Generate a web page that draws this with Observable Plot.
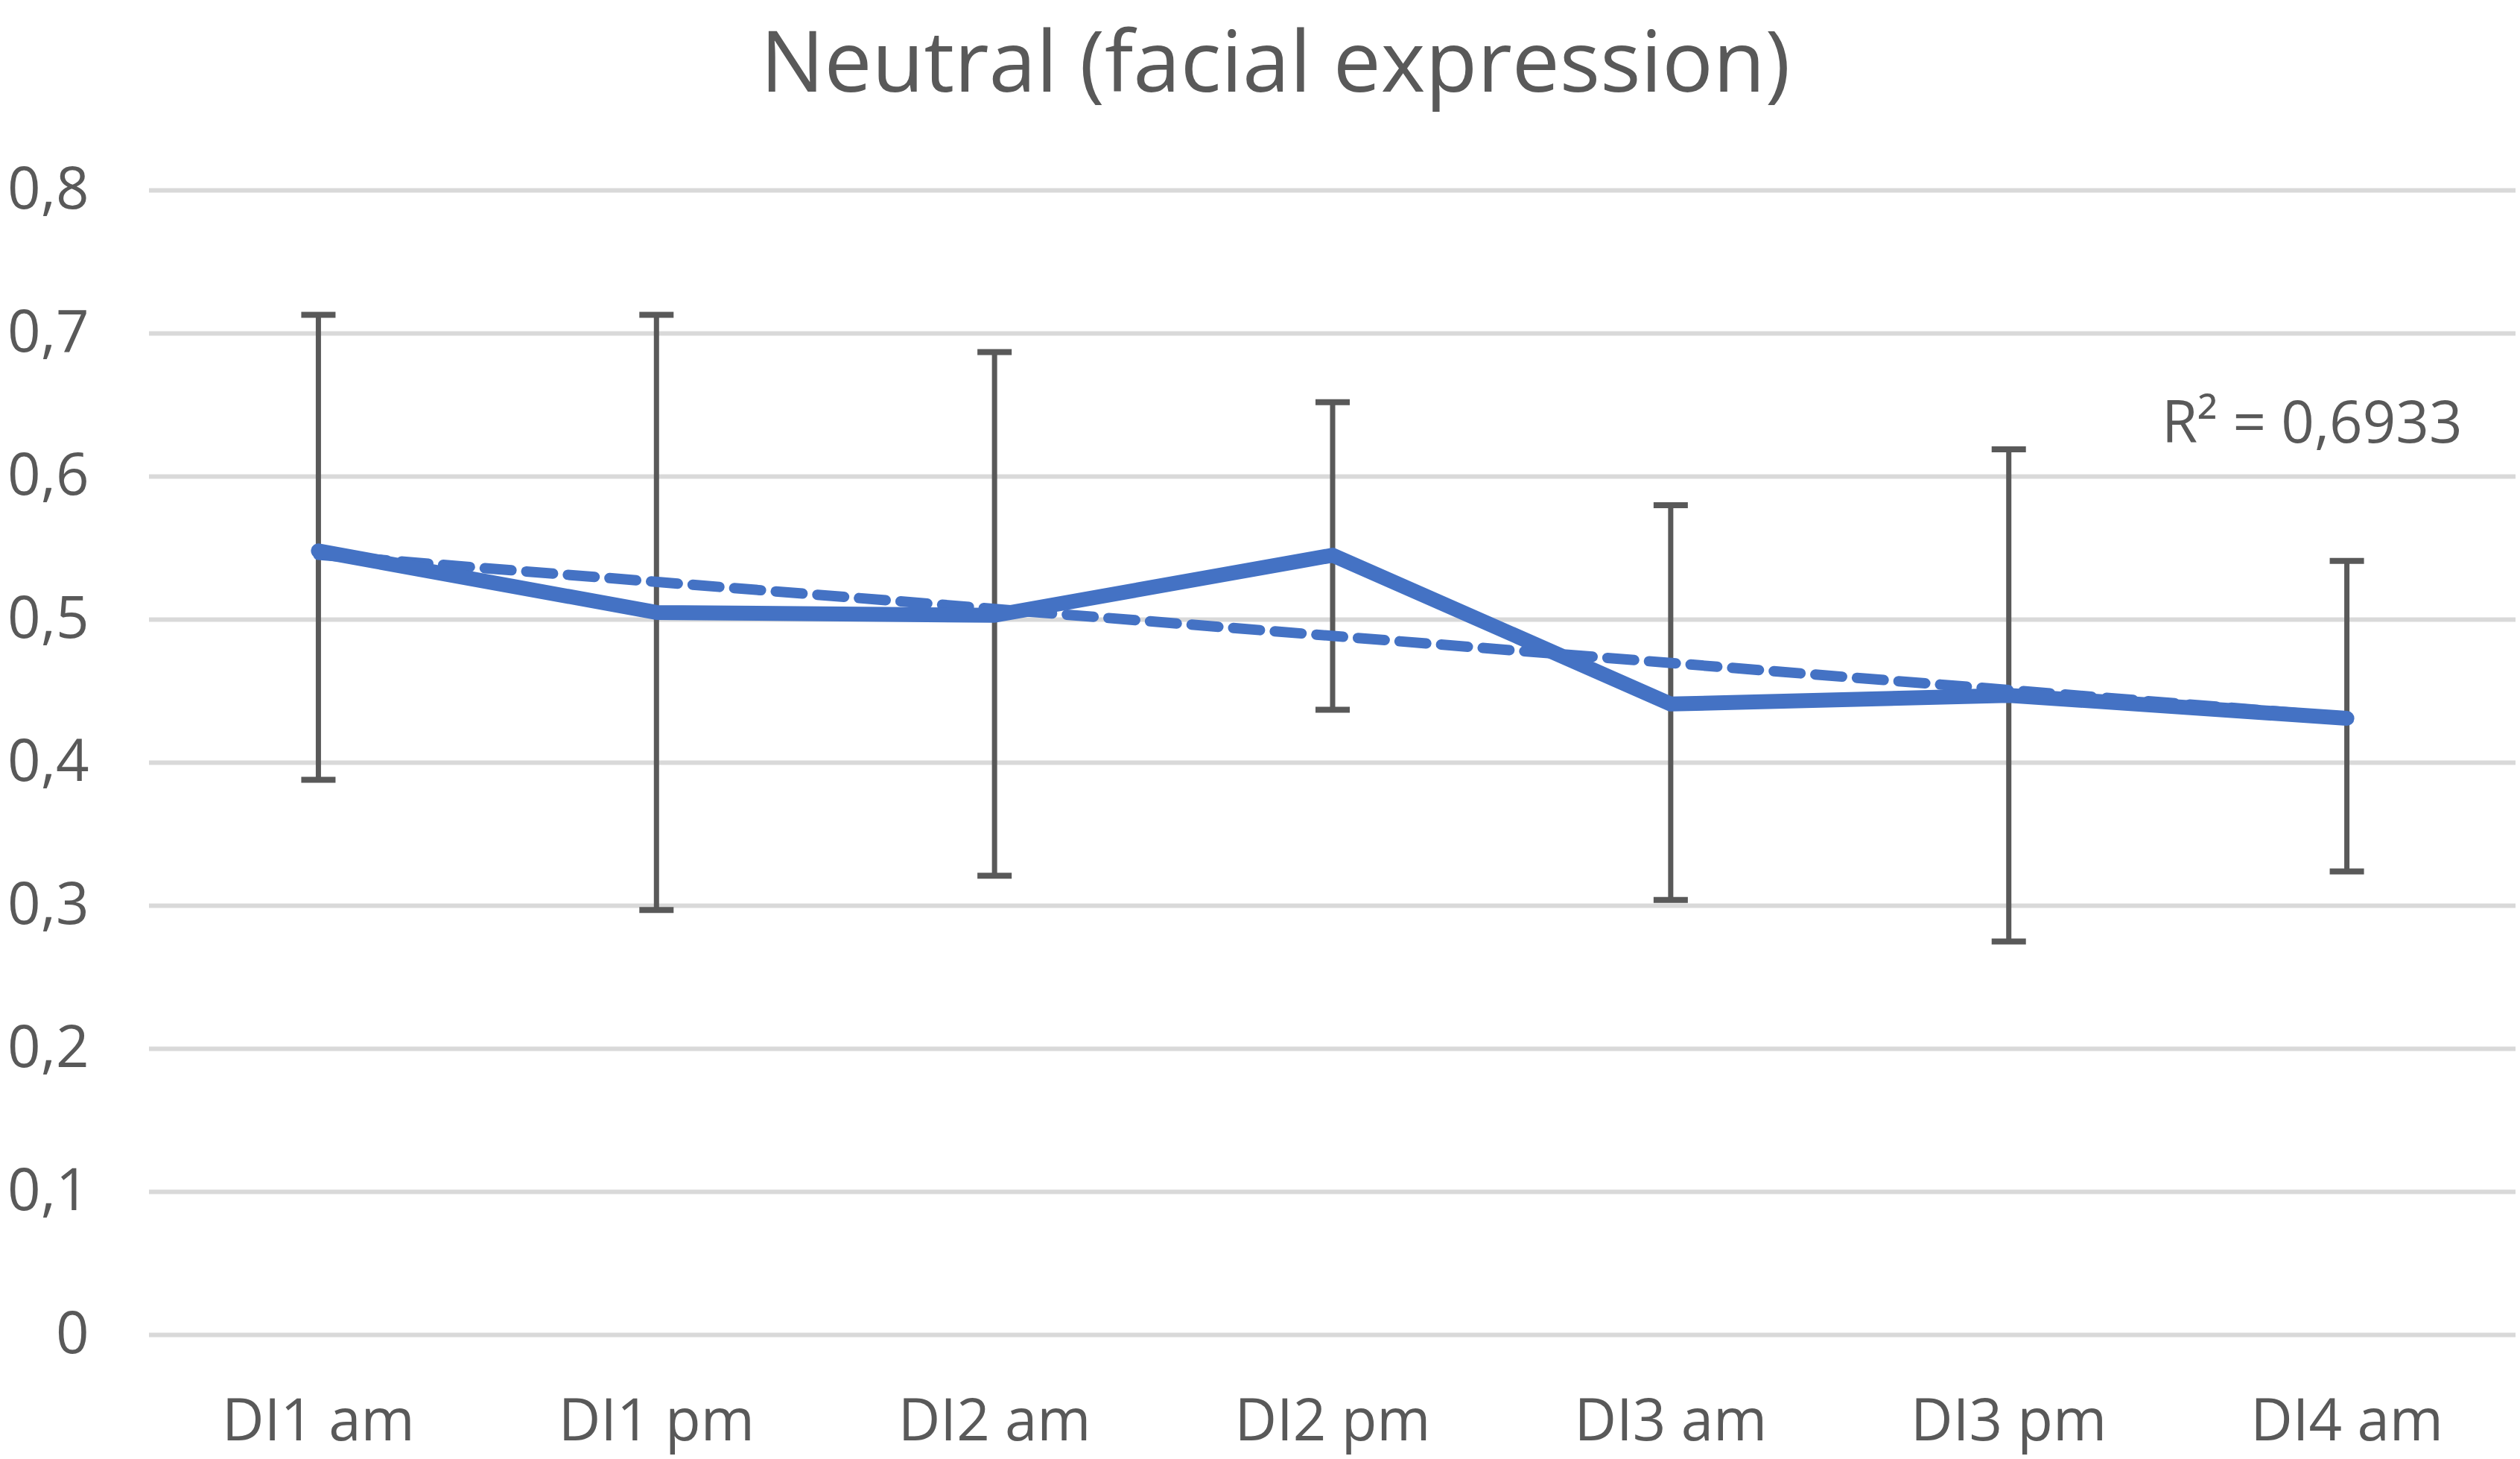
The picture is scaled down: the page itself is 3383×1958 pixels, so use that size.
<!DOCTYPE html>
<html>
<head>
<meta charset="utf-8">
<script src="https://cdn.jsdelivr.net/npm/d3@7"></script>
<script src="https://cdn.jsdelivr.net/npm/@observablehq/plot@0.6"></script>
<style>
  html, body { margin: 0; padding: 0; background: #ffffff; }
  #chart svg { display: block; }
</style>
</head>
<body>
<div id="chart"></div>
<script>
// ---- data ----
const categories = ["DI1 am", "DI1 pm", "DI2 am", "DI2 pm", "DI3 am", "DI3 pm", "DI4 am"];
const means      = [0.548, 0.505, 0.503, 0.545, 0.441, 0.447, 0.431];
const upper      = [0.713, 0.713, 0.687, 0.652, 0.580, 0.619, 0.541];
const lower      = [0.388, 0.297, 0.321, 0.437, 0.304, 0.275, 0.324];
const yTicks     = [0, 0.1, 0.2, 0.3, 0.4, 0.5, 0.6, 0.7, 0.8];
const titleText  = "Neutral (facial expression)";
const r2Text     = "R\u00B2 = 0,6933";

const rows = categories.map((c, k) => ({ i: k + 1, cat: c, mean: means[k], hi: upper[k], lo: lower[k] }));
const caps = rows.flatMap(d => [{ i: d.i, v: d.hi }, { i: d.i, v: d.lo }]);

const blue = "#4472C4";
const grey = "#595959";

// horizontal-line symbol for error-bar caps
const capSymbol = {
  draw(ctx, size) {
    const w = Math.sqrt(size / Math.PI);
    ctx.moveTo(-w, 0);
    ctx.lineTo(w, 0);
  }
};

const fmt = d => d === 0 ? "0" : d.toFixed(1).replace(".", ",");

const chart = Plot.plot({
  width: 3383,
  height: 1958,
  marginTop: 255,
  marginBottom: 167,
  marginLeft: 200,
  marginRight: 6,
  style: { fontFamily: "'Open Sans', sans-serif", fontSize: "78px", color: grey, background: "#ffffff" },
  x: { type: "linear", domain: [0.5, 7.5], ticks: rows.map(d => d.i), tickFormat: i => categories[i - 1], tickSize: 0, tickPadding: 86, label: null },
  y: { domain: [0, 0.8], ticks: yTicks, tickFormat: fmt, tickSize: 0, tickPadding: 81, label: null },
  marks: [
    Plot.gridY(yTicks, { stroke: "#d9d9d9", strokeOpacity: 1, strokeWidth: 6 }),
    Plot.ruleX(rows, { x: "i", y1: "lo", y2: "hi", stroke: grey, strokeWidth: 7 }),
    Plot.dot(caps, { x: "i", y: "v", symbol: capSymbol, r: 23, fill: "none", stroke: grey, strokeWidth: 8 }),
    Plot.linearRegressionY(rows, { x: "i", y: "mean", ci: 0, stroke: blue, strokeWidth: 14, strokeDasharray: "36,20" }),
    Plot.line(rows, { x: "i", y: "mean", stroke: blue, strokeWidth: 20, strokeLinejoin: "round", strokeLinecap: "round" }),
    Plot.text([titleText], { frameAnchor: "top", text: d => d, dx: -77, dy: -133, lineAnchor: "bottom", fontSize: 114, fill: grey }),
    Plot.text([r2Text], { frameAnchor: "top-right", text: d => d, textAnchor: "end", dx: -72, dy: 338, lineAnchor: "bottom", fontSize: 78, fill: grey })
  ]
});

document.getElementById("chart").appendChild(chart);
</script>
</body>
</html>
